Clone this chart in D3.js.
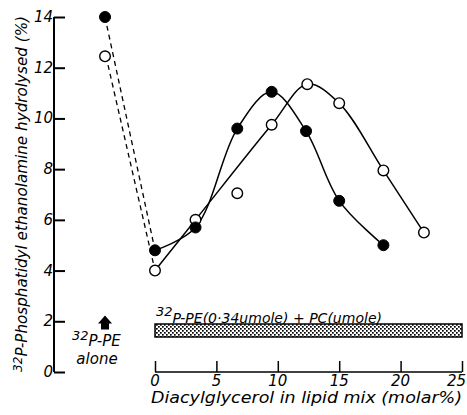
<!DOCTYPE html>
<html><head><meta charset="utf-8">
<script src="https://cdn.jsdelivr.net/npm/d3@7/dist/d3.min.js"></script>
<style>
body{margin:0;background:#fff;}
text{font-family:"DejaVu Sans",sans-serif;font-style:italic;fill:#000;}
</style></head>
<body><svg id="c" width="467" height="415"></svg>
<script>
// Data
const xTicks = [0, 5, 10, 15, 20, 25];
const yTicks = [0, 2, 4, 6, 8, 10, 12, 14];
const filledX = [0, 3.3, 6.7, 9.5, 12.3, 15, 18.6];
const filledY = [4.8, 5.7, 9.6, 11.05, 9.5, 6.75, 5.0];
const openX = [0, 3.3, 6.7, 9.5, 12.4, 15, 18.6, 21.9];
const openY = [4.0, 6.0, 7.05, 9.75, 11.35, 10.6, 7.95, 5.5];
const openCurveIdx = [0, 1, 3, 4, 5, 6, 7]; // the point at 6.7 lies off the fitted curve
const aloneX = -4.07;          // PE-alone points, left of the axis origin
const aloneFilled = 14.0;
const aloneOpen = 12.45;
const aloneArrowY = 1.95;

const svg = d3.select("#c");
const x = d3.scaleLinear().domain([0, 25]).range([155, 462]);
const y = d3.scaleLinear().domain([0, 14]).range([372, 17]);

// dotted pattern
const defs = svg.append("defs");
const pat = defs.append("pattern").attr("id","dots").attr("width",4).attr("height",4).attr("patternUnits","userSpaceOnUse");
pat.append("rect").attr("width",4).attr("height",4).attr("fill","#fff");
pat.append("rect").attr("x",0).attr("y",0).attr("width",1.7).attr("height",1.7).attr("fill","#000");
pat.append("rect").attr("x",2).attr("y",2).attr("width",1.7).attr("height",1.7).attr("fill","#000");

// Y axis
const yAxis = d3.axisRight(y).tickValues(yTicks).tickSize(11).tickFormat("");
const gy = svg.append("g").attr("transform","translate(54,0)").call(yAxis);
gy.select(".domain").attr("stroke","#000").attr("stroke-width",2).attr("d",`M0,${y(0)}V${y(14)}`);
gy.selectAll(".tick line").attr("stroke","#000").attr("stroke-width",2);
svg.append("g").selectAll("text").data(yTicks).join("text")
  .attr("x",53).attr("y",d=>y(d)+5).attr("text-anchor","end")
  .style("font-size","15px").text(d=>d);

// X axis
const xAxis = d3.axisTop(x).tickValues(xTicks).tickSize(11).tickFormat("");
const gx = svg.append("g").attr("transform",`translate(0,${y(0)})`).call(xAxis);
gx.select(".domain").attr("stroke","#000").attr("stroke-width",1.5).attr("d",`M${x(0)},0H${x(25)}`);
gx.selectAll(".tick line").attr("stroke","#000").attr("stroke-width",1.5);
svg.append("g").selectAll("text").data(xTicks).join("text")
  .attr("x",d=>d===25 ? 466 : x(d)).attr("y",386)
  .attr("text-anchor",d=>d===25 ? "end" : "middle")
  .style("font-size","15px").text(d=>d);

// Axis titles
svg.append("text").attr("x",151).attr("y",403)
  .attr("textLength",311).attr("lengthAdjust","spacingAndGlyphs")
  .style("font-size","15px").text("Diacylglycerol in lipid mix (molar%)");
const yl = svg.append("text").attr("transform","translate(27,372) rotate(-90)")
  .attr("textLength",356).attr("lengthAdjust","spacingAndGlyphs")
  .style("font-size","15px");
yl.append("tspan").attr("dy","-5").style("font-size","12px").text("32");
yl.append("tspan").attr("dy","5").text("P-Phosphatidyl ethanolamine hydrolysed (%)");

// Bar
svg.append("rect").attr("x",x(0)).attr("y",324).attr("width",x(25)-x(0)).attr("height",13)
  .attr("fill","url(#dots)").attr("stroke","#000").attr("stroke-width",1.5);
const bl = svg.append("text").attr("x",x(0)+1).attr("y",323)
  .attr("textLength",226).attr("lengthAdjust","spacingAndGlyphs").style("font-size","14px");
bl.append("tspan").attr("dy","-7").style("font-size","13px").text("32");
bl.append("tspan").attr("dy","7").text("P-PE(0·34umole) + PC(umole)");

// PE alone arrow + label
const ax = x(aloneX), ay = y(aloneArrowY);
svg.append("path").attr("d",`M${ax},${ay-7} L${ax+7},${ay+1} L${ax+4},${ay+1} L${ax+4},${ay+7} L${ax-4},${ay+7} L${ax-4},${ay+1} L${ax-7},${ay+1} Z`)
  .attr("fill","#000");
const pl = svg.append("text").attr("x",72).attr("y",346).style("font-size","15px");
pl.append("tspan").attr("dy","-6").style("font-size","13px").text("32");
pl.append("tspan").attr("dy","6").text("P-PE");
svg.append("text").attr("x",97).attr("y",364).attr("text-anchor","middle").style("font-size","15px").text("alone");

// dashed lines
svg.append("line").attr("x1",x(aloneX)).attr("y1",y(aloneFilled)).attr("x2",x(filledX[0])).attr("y2",y(filledY[0]))
  .attr("stroke","#000").attr("stroke-width",1.3).attr("stroke-dasharray","5,4");
svg.append("line").attr("x1",x(aloneX)+1).attr("y1",y(aloneOpen)).attr("x2",x(openX[0])).attr("y2",y(openY[0]))
  .attr("stroke","#000").attr("stroke-width",1.3).attr("stroke-dasharray","5,4");

// curves
const line = d3.line().x(d=>x(d[0])).y(d=>y(d[1])).curve(d3.curveCatmullRom.alpha(0.5));
svg.append("path").datum(filledX.map((v,i)=>[v,filledY[i]])).attr("d",line)
  .attr("fill","none").attr("stroke","#000").attr("stroke-width",1.5);
svg.append("path").datum(openCurveIdx.map(i=>[openX[i],openY[i]])).attr("d",line)
  .attr("fill","none").attr("stroke","#000").attr("stroke-width",1.5);

// points
svg.append("g").selectAll("circle").data(openX.map((v,i)=>[v,openY[i]]).concat([[aloneX,aloneOpen]])).join("circle")
  .attr("cx",d=>x(d[0])).attr("cy",d=>y(d[1])).attr("r",5.3)
  .attr("fill","#fff").attr("stroke","#000").attr("stroke-width",1.4);
svg.append("g").selectAll("circle").data(filledX.map((v,i)=>[v,filledY[i]]).concat([[aloneX,aloneFilled]])).join("circle")
  .attr("cx",d=>x(d[0])).attr("cy",d=>y(d[1])).attr("r",5.5)
  .attr("fill","#000").attr("stroke","#000");
</script></body></html>
